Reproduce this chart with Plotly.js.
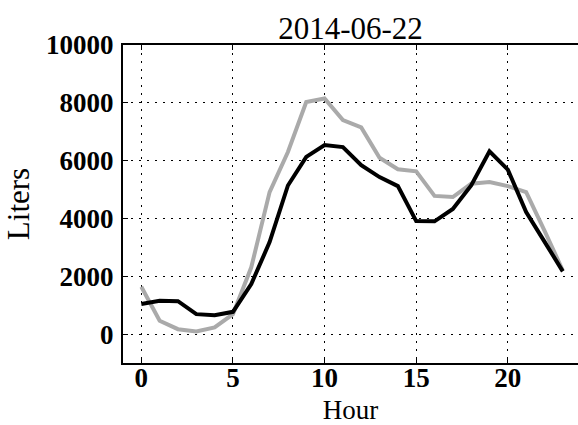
<!DOCTYPE html>
<html>
<head>
<meta charset="utf-8">
<script src="https://cdn.plot.ly/plotly-3.0.1.min.js"></script>
<style>html,body{margin:0;padding:0;background:#fff;overflow:hidden;}</style>
</head>
<body>
<div id="chart" style="width:578px;height:425px;"></div>
<script>
const hours = [0,1,2,3,4,5,6,7,8,9,10,11,12,13,14,15,16,17,18,19,20,21,22,23];
const grayValues = [1640,460,170,90,230,690,2310,4910,6300,8030,8150,7400,7150,6100,5700,5630,4780,4740,5200,5260,5120,4910,3580,2200];
const blackValues = [1040,1150,1140,690,650,770,1730,3180,5140,6130,6540,6470,5840,5430,5120,3910,3900,4330,5140,6320,5690,4220,3200,2170];
const xTicks = [0,5,10,15,20];
const yTicks = [0,2000,4000,6000,8000,10000];

const serif = "Liberation Serif, Times New Roman, serif";

const data = [
  {x: hours, y: grayValues, type: 'scatter', mode: 'lines',
   line: {color: '#aaaaaa', width: 4}, hoverinfo: 'skip'},
  {x: hours, y: blackValues, type: 'scatter', mode: 'lines',
   line: {color: '#000000', width: 4}, hoverinfo: 'skip'}
];

const layout = {
  width: 578, height: 425,
  margin: {l: 123, r: 0, t: 45, b: 62},
  paper_bgcolor: '#ffffff', plot_bgcolor: '#ffffff',
  showlegend: false,
  font: {family: serif, color: '#000'},
  title: {text: '2014-06-22', font: {family: serif, size: 31, color: '#000'},
          x: 0.5, xref: 'paper', y: 1, yref: 'paper', yanchor: 'bottom', pad: {b: 6}},
  xaxis: {
    range: [-1, 23.83], tickvals: xTicks, ticktext: xTicks.map(String),
    showgrid: true, gridcolor: '#000', gridwidth: 1, griddash: '2px,6px',
    zeroline: false, showline: true, linecolor: '#000', linewidth: 2, mirror: 'allticks',
    ticks: 'inside', ticklen: 5, tickwidth: 1, tickcolor: '#000',
    tickfont: {family: serif, size: 27, color: '#000', weight: 'bold'},
    ticklabelstandoff: -10,
    title: {text: 'Hour', font: {family: serif, size: 27, color: '#000'}, standoff: 14}
  },
  yaxis: {
    range: [-1000, 10000], tickvals: yTicks, ticktext: yTicks.map(String),
    showgrid: true, gridcolor: '#000', gridwidth: 1, griddash: '2px,6px',
    zeroline: false, showline: true, linecolor: '#000', linewidth: 2, mirror: false,
    ticks: 'inside', ticklen: 5, tickwidth: 1, tickcolor: '#000',
    tickfont: {family: serif, size: 27, color: '#000', weight: 'bold'},
    ticklabelstandoff: 2,
    title: {text: 'Liters', font: {family: serif, size: 31, color: '#000'}, standoff: 7}
  }
};

Plotly.newPlot('chart', data, layout, {displayModeBar: false, staticPlot: true});
</script>
</body>
</html>
